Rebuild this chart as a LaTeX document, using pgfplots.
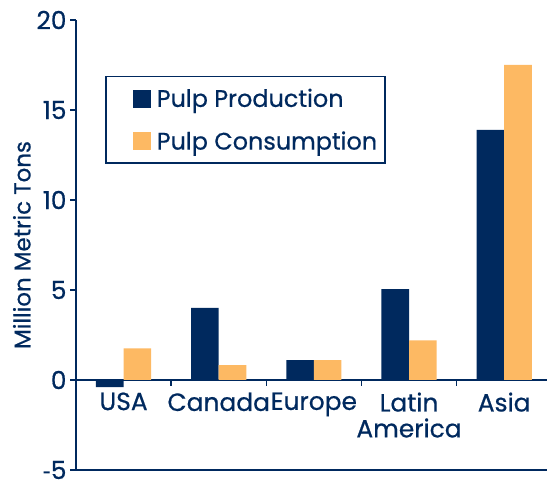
\documentclass[border=0pt]{standalone}
\usepackage{pgfplots}
\pgfplotsset{compat=1.18}
\usepackage{fontspec}
\setmainfont{Poppins}[FakeBold=0.6]
\newfontfamily\lib{Liberation Sans}
\definecolor{navy}{RGB}{0,41,94}
\definecolor{gold}{RGB}{253,185,99}
\begin{document}
\begin{tikzpicture}
\path[use as bounding box] (-76bp,-11bp) rectangle (471bp,470bp);
\begin{axis}[
 scale only axis, width=471bp, height=450bp,
 xmin=-0.5, xmax=4.45, ymin=-5, ymax=20,
 clip=false,
 axis x line=middle, axis y line=left,
 axis line style={-, draw=navy, line width=1.5bp},
 hide obscured x ticks=false, hide obscured y ticks=false,
 ybar=0pt, bar width=0.29,
 xtick={0.5,1.5,2.5,3.5},
 xticklabels={},
 x tick style={draw=navy, line width=1.5bp},
 extra x ticks={0,1,2,3,4},
 extra x tick labels={USA,Canada,Europe,{Latin\\America},Asia},
 extra x tick style={major tick length=0pt, tick style={draw=none}},
 xticklabel style={align=center, font=\fontsize{25}{26}\selectfont, text=navy, anchor=north, yshift=-9bp},
 ytick={-5,0,5,10,15,20},
 yticklabels={{\mbox{{\lib -}5}},{\mbox{0}},{\mbox{5}},{\mbox{10}},{\mbox{15}},{\mbox{20}}},
 y tick style={draw=navy, line width=1.5bp},
 tick align=outside, major tick length=6bp,
 yticklabel style={font=\fontsize{25}{26}\selectfont, text=navy, inner ysep=0bp, text depth=0pt},
 ylabel={Million Metric Tons},
 every axis y label/.style={at={(axis description cs:-0.115,0.5)}, rotate=90, anchor=center, font=\fontsize{23}{24}\selectfont, text=navy},
 legend style={at={(axis description cs:0.0616,0.8756)}, anchor=north west, draw=navy, line width=1.5bp, font=\fontsize{24}{25}\selectfont, text=navy, inner xsep=6bp, inner ysep=10bp, row sep=19bp},
 legend cell align=left,
]
\addplot[fill=navy, draw=none, bar shift=-0.145, legend image code/.code={\path (0bp,0bp) (43bp,0bp); \fill[navy] (21bp,-9bp) rectangle (39bp,9bp);}] coordinates {(0,-0.4) (1,4.0) (2,1.1) (3,5.05) (4,13.9)};
\addlegendentry{Pulp Production}
\addplot[fill=gold, draw=none, bar shift=0.145, legend image code/.code={\path (0bp,0bp) (43bp,0bp); \fill[gold] (21bp,-9bp) rectangle (39bp,9bp);}] coordinates {(0,1.76) (1,0.83) (2,1.1) (3,2.2) (4,17.5)};
\addlegendentry{Pulp Consumption}
\draw[navy, line width=1.5bp] (axis cs:-0.5,-5) -- (axis cs:4.45,-5);
\end{axis}
\end{tikzpicture}
\end{document}
